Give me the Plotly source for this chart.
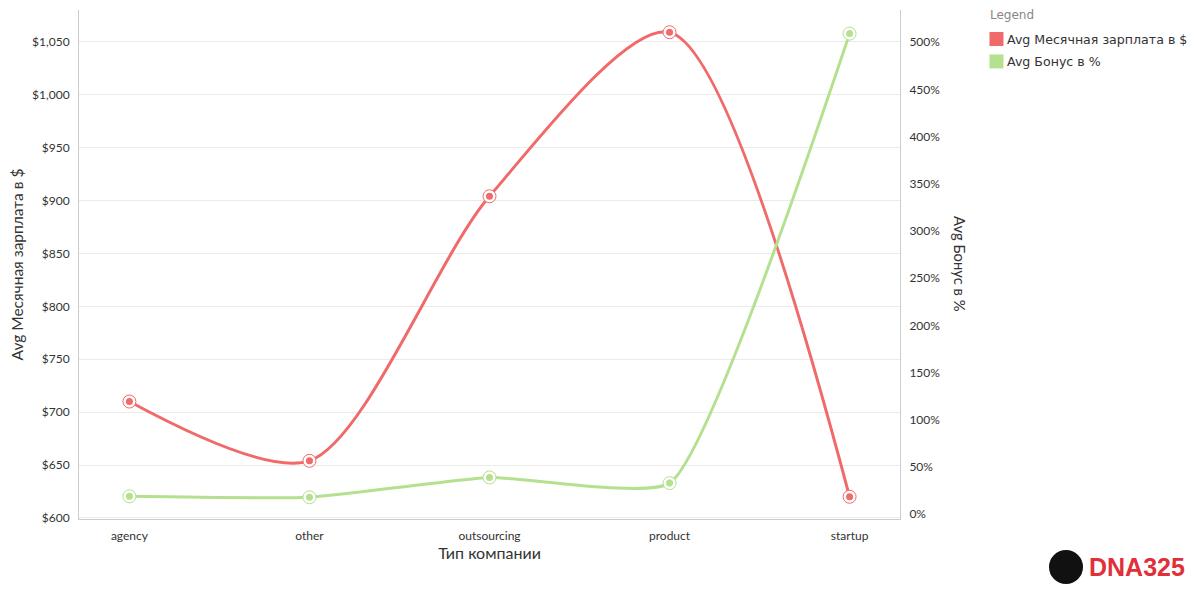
import plotly.graph_objects as go

# company types along the x axis
company_types = ["agency", "other", "outsourcing", "product", "startup"]

# average monthly salary, $
avg_salary = [710, 654, 904, 1059, 620]

# average bonus, %
avg_bonus = [19, 18, 39, 33, 509]

# legend labels
series_names = ["Avg Месячная зарплата в $", "Avg Бонус в %"]

red = "#f06a6a"
green = "#b5e08f"
font_main = "Lato"

fig = go.Figure()

# salary line (left axis)
fig.add_trace(go.Scatter(
    x=company_types, y=avg_salary, name=series_names[0],
    mode="lines", showlegend=False,
    line=dict(color=red, width=3, shape="spline", smoothing=0.8),
    yaxis="y",
))
# bonus line (right axis)
fig.add_trace(go.Scatter(
    x=company_types, y=avg_bonus, name=series_names[1],
    mode="lines", showlegend=False,
    line=dict(color=green, width=3, shape="spline", smoothing=0.45),
    yaxis="y2",
))

# point markers: outer ring + white gap + filled dot
for vals, col, ax in [(avg_salary, red, "y"), (avg_bonus, green, "y2")]:
    fig.add_trace(go.Scatter(
        x=company_types, y=vals, mode="markers", showlegend=False, hoverinfo="skip",
        marker=dict(size=13, color="white", line=dict(color=col, width=1)),
        yaxis=ax,
    ))
    fig.add_trace(go.Scatter(
        x=company_types, y=vals, mode="markers", showlegend=False, hoverinfo="skip",
        marker=dict(size=7, color=col),
        yaxis=ax,
    ))

# page body has an 8px margin, so the figure is 16px smaller than the window
fig.update_layout(
    width=1184, height=584,
    margin=dict(l=71, r=292, t=2, b=73, autoexpand=False),
    plot_bgcolor="white", paper_bgcolor="white",
    font=dict(family=font_main, size=12, color="#333333"),
    showlegend=False,
    xaxis=dict(
        range=[-0.28, 4.28],
        showline=True, linecolor="#cccccc", linewidth=1,
        showgrid=False, ticks="", ticklabelstandoff=6,
        title=dict(text="Тип компании", font=dict(size=16), standoff=5),
    ),
    yaxis=dict(
        range=[599, 1080],
        dtick=50, tickprefix="$", tickformat=",d",
        showline=True, linecolor="#cccccc",
        gridcolor="#ebebeb", zeroline=False,
        ticks="", ticklabelstandoff=6,
        title=dict(text="Avg Месячная зарплата в $", font=dict(size=15.5), standoff=9),
    ),
    yaxis2=dict(
        overlaying="y", side="right",
        range=[-5, 534],
        dtick=50, ticksuffix="%",
        showline=True, linecolor="#cccccc",
        showgrid=False, zeroline=False, ticks="",
        ticklabelstandoff=6,
    ),
)

# right axis title reads top to bottom
fig.add_annotation(
    text="Avg Бонус в %", xref="paper", yref="paper", x=1.087, y=0.5,
    textangle=90, showarrow=False, font=dict(size=14.8, color="#333333"),
)

# legend block: title, colour squares, labels
legend_font = "DejaVu Sans"
fig.add_annotation(
    text="Legend", xref="paper", yref="paper", x=1.1072, y=0.990,
    xanchor="left", yanchor="middle", showarrow=False,
    font=dict(family=legend_font, size=12, color="#888888"),
)
for name, col, ly in zip(series_names, [red, green], [0.943, 0.899]):
    fig.add_shape(type="rect", xref="paper", yref="paper",
                  xsizemode="pixel", ysizemode="pixel",
                  xanchor=1.1175, yanchor=ly,
                  x0=-7, x1=7, y0=-7, y1=7,
                  fillcolor=col, line=dict(width=0))
    fig.add_annotation(
        text=name, xref="paper", yref="paper", x=1.1279, y=ly,
        xanchor="left", yanchor="middle", showarrow=False,
        font=dict(family=legend_font, size=12.6, color="#333333"),
    )

# logo
fig.add_shape(type="circle", xref="paper", yref="paper",
              xsizemode="pixel", ysizemode="pixel",
              xanchor=1.2022, yanchor=-0.0943,
              x0=-16, x1=16, y0=-16, y1=16,
              fillcolor="#111111", line=dict(color="#111111"))
fig.add_annotation(
    text="<b>DNA325</b>", xref="paper", yref="paper", x=1.2278, y=-0.0943,
    xanchor="left", yanchor="middle", showarrow=False,
    font=dict(family="Liberation Sans", size=25, color="#e0303a"),
)

fig.write_html("out.html")
